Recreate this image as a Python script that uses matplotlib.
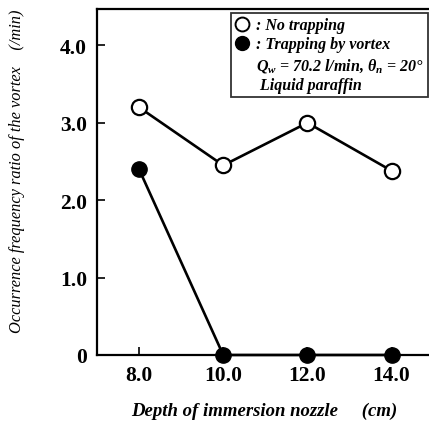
import matplotlib.pyplot as plt
from matplotlib.lines import Line2D

# dati
depth = [8.0, 10.0, 12.0, 14.0]
no_trapping = [3.2, 2.45, 3.0, 2.38]
trapping = [2.4, 0.0, 0.0, 0.0]

x_ticks = [8.0, 10.0, 12.0, 14.0]
x_ticklabels = ["8.0", "10.0", "12.0", "14.0"]
y_ticks = [0, 1.0, 2.0, 3.0, 4.0]
y_ticklabels = ["0", "1.0", "2.0", "3.0", "4.0"]

plt.rcParams["font.family"] = "Liberation Serif"
plt.rcParams["mathtext.fontset"] = "custom"
plt.rcParams["mathtext.it"] = "Liberation Serif:bold:italic"
plt.rcParams["mathtext.rm"] = "Liberation Serif:bold"

fig = plt.figure(figsize=(4.29, 4.27), dpi=100)
ax = fig.add_axes([0.226, 0.1663, 0.78, 0.8103])

ax.plot(depth, no_trapping, color="black", lw=1.9, marker="o", ms=11,
        mfc="white", mec="black", mew=1.6, zorder=3, clip_on=False)
ax.plot(depth, trapping, color="black", lw=1.9, marker="o", ms=11,
        mfc="black", mec="black", zorder=3, clip_on=False)

ax.set_xlim(7.0, 14.95)
ax.set_ylim(0, 4.47)
ax.set_xticks(x_ticks)
ax.set_xticklabels(x_ticklabels)
ax.set_yticks(y_ticks)
ax.set_yticklabels(y_ticklabels)
ax.tick_params(direction="in", length=6, width=1.2, labelsize=15.5, pad=7)
for lab in ax.get_xticklabels() + ax.get_yticklabels():
    lab.set_fontweight("bold")

ax.spines["right"].set_visible(False)
for s in ["left", "bottom", "top"]:
    ax.spines[s].set_linewidth(1.6)

ax.set_xlabel("Depth of immersion nozzle     (cm)", fontsize=13.5,
              fontweight="bold", style="italic", labelpad=12)
ax.set_ylabel("Occurrence frequency ratio of the vortex    (/min)", fontsize=11.8,
              style="italic")
ax.yaxis.set_label_coords(-0.215, 0.535)

h_open = Line2D([], [], ls="none", marker="o", ms=10, mfc="white", mec="black", mew=1.4)
h_fill = Line2D([], [], ls="none", marker="o", ms=10, mfc="black", mec="black")
h_blank = Line2D([], [], ls="none")
leg = ax.legend([h_open, h_fill, h_blank, h_blank],
                [": No trapping", ": Trapping by vortex",
                 r"$Q_w$ = 70.2 l/min, $\theta_n$ = 20°", " Liquid paraffin"],
                loc="upper right", bbox_to_anchor=(0.988, 0.988),
                prop={"family": "Liberation Serif", "weight": "bold",
                      "style": "italic", "size": 11.5},
                frameon=True, fancybox=False, edgecolor="black",
                handlelength=0.8, handletextpad=0.5, labelspacing=0.2,
                borderpad=0.25, borderaxespad=0)
leg.get_frame().set_linewidth(1.3)

fig.savefig("out.png", dpi=100)
